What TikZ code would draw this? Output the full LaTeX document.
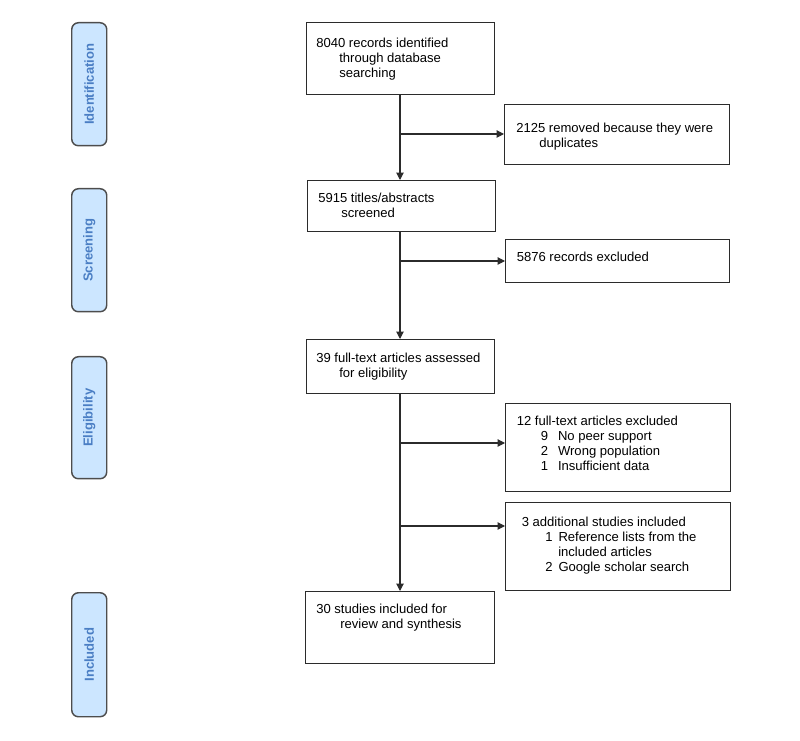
\documentclass[tikz,border=0pt]{standalone}
\usepackage{fontspec}
\setmainfont{Liberation Sans}
\usetikzlibrary{arrows.meta}
\definecolor{phasefill}{HTML}{CCE6FF}
\definecolor{phasetext}{HTML}{4A7EC4}
\definecolor{phaseline}{HTML}{4D4D4D}
\definecolor{boxline}{HTML}{2B2B2B}
\tikzset{
  phase/.style={draw=phaseline, line width=1.1pt, fill=phasefill, rounded corners=5pt,
    minimum width=35*0.75pt, anchor=north west, inner sep=0pt},
  phasetxt/.style={rotate=90, font=\fontsize{9.8}{11.3}\selectfont\bfseries, text=phasetext},
  stage/.style={draw=boxline, line width=0.8pt, anchor=north west, inner sep=0pt},
  txt/.style={anchor=north west, inner sep=0pt, align=left,
    font=\fontsize{9.8}{11.25}\selectfont},
  conn/.style={draw=boxline, line width=0.8pt},
  arr/.style={conn, -{Triangle[length=5.5pt,width=5.5pt]}}
}
\newcommand{\ind}[1]{\hspace*{#1\dimexpr0.75pt\relax}}
\begin{document}
\begin{tikzpicture}[x=0.75pt,y=-0.75pt]
\useasboundingbox (0,0) rectangle (800,741);
% phase boxes
\node[phase, minimum height=123*0.75pt] (p1) at (71,22) {};
\node[phasetxt] (p1t) at (p1.center) {Identification};
\node[phase, minimum height=123*0.75pt] (p2) at (71,188) {};
\node[phasetxt] (p2t) at (p2.center) {Screening};
\node[phase, minimum height=122*0.75pt] (p3) at (71,356) {};
\node[phasetxt] (p3t) at (p3.center) {Eligibility};
\node[phase, minimum height=124*0.75pt] (p4) at (71,592) {};
\node[phasetxt] (p4t) at (p4.center) {Included};
% main boxes
\node[stage, minimum width=188*0.75pt, minimum height=72*0.75pt] (b1) at (306,22) {};
\node[txt] (b1t) at (316,38) {8040 records identified\\\ind{23}through database\\\ind{23}searching};
\node[stage, minimum width=225*0.75pt, minimum height=60*0.75pt] (b2) at (504,104) {};
\node[txt] (b2t) at (516,122.5) {2125 removed because they were\\\ind{23}duplicates};
\node[stage, minimum width=188*0.75pt, minimum height=51*0.75pt] (b3) at (307,180) {};
\node[txt] (b3t) at (318,193) {5915 titles/abstracts\\\ind{23}screened};
\node[stage, minimum width=224*0.75pt, minimum height=43*0.75pt] (b4) at (505,239) {};
\node[txt] (b4t) at (516.5,251.5) {5876 records excluded};
\node[stage, minimum width=188*0.75pt, minimum height=54*0.75pt] (b5) at (306,339) {};
\node[txt] (b5t) at (316,353) {39 full-text articles assessed\\\ind{23}for eligibility};
\node[stage, minimum width=225*0.75pt, minimum height=88*0.75pt] (b6) at (505,403) {};
\node[txt] (b6t) at (516.5,416) {12 full-text articles excluded\\\ind{24}9\ind{10}No peer support\\\ind{24}2\ind{10}Wrong population\\\ind{24}1\ind{10}Insufficient data};
\node[stage, minimum width=225*0.75pt, minimum height=88*0.75pt] (b7) at (505,502) {};
\node[txt] (b7t) at (521.5,516.5) {3 additional studies included\\\ind{23.5}1\ind{6}Reference lists from the\\\ind{36.5}included articles\\\ind{23.5}2\ind{6}Google scholar search};
\node[stage, minimum width=189*0.75pt, minimum height=72*0.75pt] (b8) at (305,591) {};
\node[txt] (b8t) at (316,604) {30 studies included for\\\ind{24}review and synthesis};
% connectors
\coordinate (j1) at (400,134);
\coordinate (j2) at (400,261);
\coordinate (j3) at (400,443);
\coordinate (j4) at (400,526);
\draw[arr] (j1 |- b1.south) -- (j1 |- b3.north);
\draw[arr] (j1 |- b3.south) -- (j1 |- b5.north);
\draw[arr] (j1 |- b5.south) -- (j1 |- b8.north);
\draw[arr] (j1) -- (j1 -| b2.west);
\draw[arr] (j2) -- (j2 -| b4.west);
\draw[arr] (j3) -- (j3 -| b6.west);
\draw[arr] (j4) -- (j4 -| b7.west);
\end{tikzpicture}
\end{document}
